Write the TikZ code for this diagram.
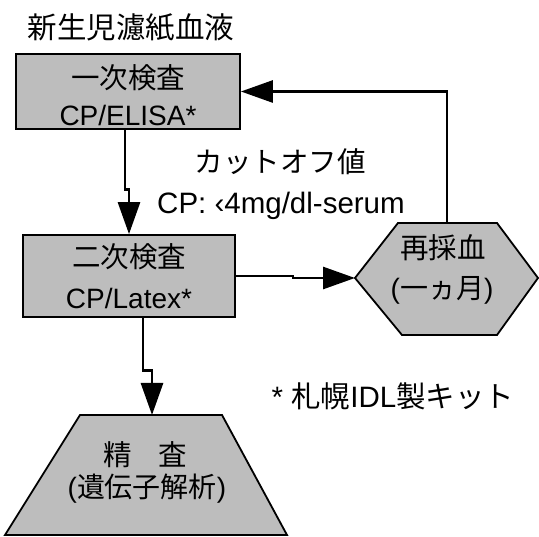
\documentclass[tikz,border=0pt]{standalone}
\usepackage{fontspec}
\setmainfont{Liberation Sans}
\newfontfamily\jp{Noto Sans CJK JP}
\usetikzlibrary{arrows.meta}
\begin{document}
\begin{tikzpicture}[x=1pt,y=-1pt,
  shapefill/.style={fill=black!26, draw=black, line width=1.8pt},
  conn/.style={line width=2.8pt, line join=miter, -{Triangle[length=32pt,width=22pt]}},
  txt/.style={inner sep=0pt, font=\fontsize{28}{31}\selectfont},
  jtxt/.style={inner sep=0pt, font=\jp\fontsize{28.5}{31}\selectfont}]
\path[fill=white] (0,0) rectangle (539,537);
\useasboundingbox (0,0) rectangle (539,537);

% title
\node[jtxt, font=\jp\fontsize{29.5}{32}\selectfont] (title) at (131,28) {新生児濾紙血液};

% box 1
\node[shapefill, minimum width=224pt, minimum height=75pt, inner sep=0pt] (b1) at (128,91.5) {};
\node[jtxt] (b1a) at (128,78) {一次検査};
\node[txt] (b1b) at (128,115) {CP/ELISA*};

% box 2
\node[shapefill, minimum width=212pt, minimum height=82pt, inner sep=0pt] (b2) at (129,276) {};
\node[jtxt] (b2a) at (129,257) {二次検査};
\node[txt] (b2b) at (129,298) {CP/Latex*};

% hexagon
\coordinate (hL) at (355,278);
\coordinate (hTL) at (398,223);
\coordinate (hTR) at (497,223);
\coordinate (hR) at (538,278);
\coordinate (hBR) at (497,335);
\coordinate (hBL) at (402,335);
\coordinate (hT) at (447,223);
\path[shapefill] (hL) -- (hTL) -- (hTR) -- (hR) -- (hBR) -- (hBL) -- cycle;
\node[jtxt] (h1) at (443,248) {再採血};
\node[txt] (h2) at (442,290) {({\jp 一ヵ月})};

% trapezoid
\coordinate (tzBL) at (5,535);
\coordinate (tzTL) at (80,415);
\coordinate (tzTR) at (222,415);
\coordinate (tzBR) at (287,535);
\coordinate (tzT) at (152,415);
\path[shapefill] (tzBL) -- (tzTL) -- (tzTR) -- (tzBR) -- cycle;
\node[jtxt] (t1) at (145,455) {精\hspace{27pt}査};
\node[txt] (t2) at (147,489) {({\jp 遺伝子解析})};

% labels
\node[jtxt] (cut) at (280,162) {カットオフ値};
\node[txt, font=\fontsize{29.5}{32}\selectfont] (cp) at (281,206) {CP: ‹4mg/dl-serum};
\node[txt, font=\fontsize{29.5}{32}\selectfont] (kit) at (393,396) {* {\jp 札幌}IDL{\jp 製キット}};

% connectors
\draw[conn] ([xshift=-3pt]b1.south) -- ++(0,60) -- ++(4,0) -- (b2.north);
\draw[conn] (b2.east) -- ++(57,0) -- ++(0,2) -- (hL);
\draw[conn] (hT) |- (b1.east);
\draw[conn] ([xshift=14pt]b2.south) -- ++(0,53) -- ++(9,0) -- (tzT);
\end{tikzpicture}
\end{document}
